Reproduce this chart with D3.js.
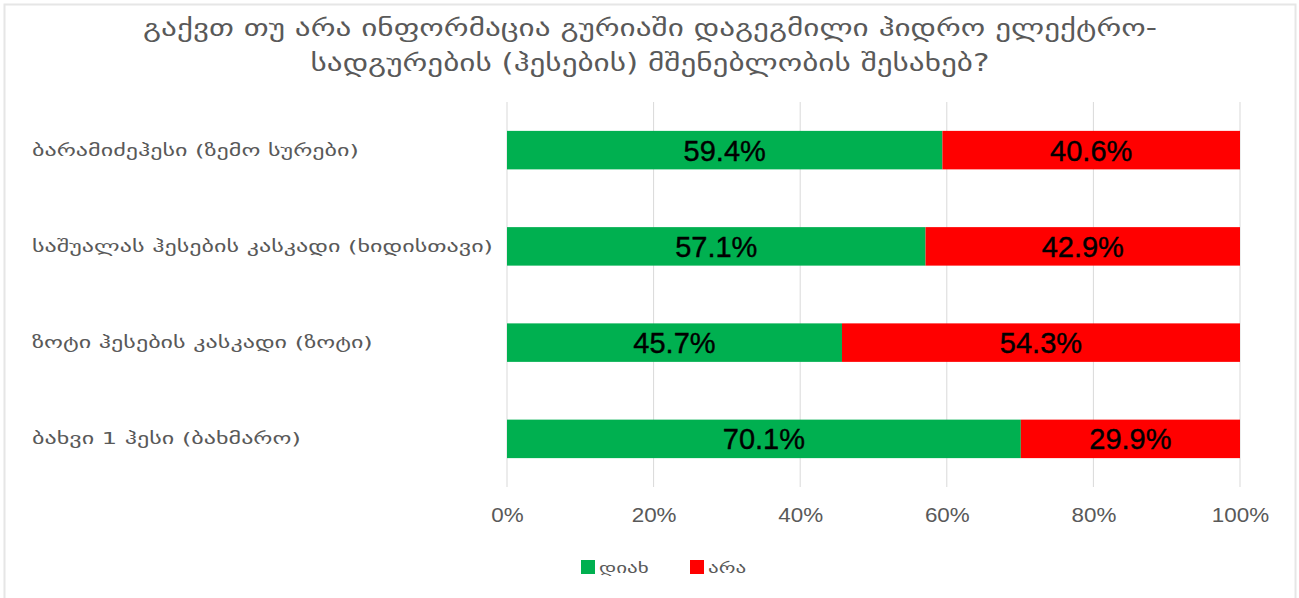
<!DOCTYPE html>
<html>
<head>
<meta charset="utf-8">
<script src="https://cdn.jsdelivr.net/npm/d3@7"></script>
<style>
  body { margin: 0; background: #fff; }
  svg { display: block; }
</style>
</head>
<body>
<svg id="svg" width="1299" height="598"></svg>
<script>
const titleLines = ["გაქვთ თუ არა ინფორმაცია გურიაში დაგეგმილი ჰიდრო ელექტრო-",
                    "სადგურების (ჰესების) მშენებლობის შესახებ?"];
const categories = ["ბარამიძეჰესი (ზემო სურები)",
                    "საშუალას ჰესების კასკადი (ხიდისთავი)",
                    "ზოტი ჰესების კასკადი (ზოტი)",
                    "ბახვი 1 ჰესი (ბახმარო)"];
const seriesNames = ["დიახ", "არა"];
const yesValues = [59.4, 57.1, 45.7, 70.1];
const noValues = [40.6, 42.9, 54.3, 29.9];
const tickValues = [0, 20, 40, 60, 80, 100];
const colors = ["#00b050", "#ff0000"];

const svg = d3.select("#svg");
const geo = "'DejaVu Sans', 'Noto Sans', sans-serif";
const num = "'Liberation Sans', Arial, sans-serif";

// the glyphs in the original are wider than the installed fonts, stretch them
function widen(sel, factor) {
  sel.each(function () {
    const w = this.getComputedTextLength();
    d3.select(this).attr("textLength", w * factor).attr("lengthAdjust", "spacingAndGlyphs");
  });
}

// outer frame
svg.append("rect").attr("x", 4.5).attr("y", 4.5).attr("width", 1291).attr("height", 600)
  .attr("fill", "none").attr("stroke", "#e6e6e6").attr("stroke-width", 2);

const title = svg.append("g").selectAll("text").data(titleLines).enter().append("text")
  .attr("x", 650).attr("y", (d, i) => 36 + i * 35)
  .attr("text-anchor", "middle")
  .attr("font-family", geo).attr("font-size", 24).attr("fill", "#595959")
  .text(d => d);
{
  const w0 = title.node().getComputedTextLength();
  widen(title, 1014 / w0);
}

const x = d3.scaleLinear().domain([0, 100]).range([507, 1240]);
const y = d3.scaleBand().domain(categories).range([102, 487]).paddingInner(0.6).paddingOuter(0.3);

const g = svg.append("g");

g.append("g").selectAll("line").data(tickValues).enter().append("line")
  .attr("x1", d => x(d)).attr("x2", d => x(d))
  .attr("y1", 102).attr("y2", 487)
  .attr("stroke", "#d9d9d9").attr("stroke-width", 1);

const xAxis = d3.axisBottom(x).tickValues(tickValues).tickFormat(d => d + "%").tickSize(0).tickPadding(0);
const ax = g.append("g").attr("transform", "translate(0,500)").call(xAxis);
ax.select(".domain").remove();
const tickText = ax.selectAll("text").attr("font-family", num).attr("font-size", 20)
  .attr("fill", "#595959").attr("y", 22).attr("dy", 0);
widen(tickText, 1.12);

const stacked = categories.map((c, i) => ({ cat: c, parts: [
  { s: 0, x0: 0, x1: yesValues[i], v: yesValues[i] },
  { s: 1, x0: yesValues[i], x1: yesValues[i] + noValues[i], v: noValues[i] }
]}));

const rows = g.append("g").selectAll("g").data(stacked).enter().append("g");
rows.selectAll("rect").data(d => d.parts.map(p => Object.assign({ cat: d.cat }, p))).enter().append("rect")
  .attr("x", d => x(d.x0)).attr("width", d => x(d.x1) - x(d.x0))
  .attr("y", d => y(d.cat)).attr("height", y.bandwidth())
  .attr("fill", d => colors[d.s]);
rows.selectAll("text").data(d => d.parts.map(p => Object.assign({ cat: d.cat }, p))).enter().append("text")
  .attr("x", d => (x(d.x0) + x(d.x1)) / 2)
  .attr("y", d => y(d.cat) + y.bandwidth() / 2)
  .attr("dy", "0.36em").attr("text-anchor", "middle")
  .attr("font-family", num).attr("font-size", 29).attr("fill", "#000")
  .attr("stroke", "#000").attr("stroke-width", 0.4)
  .text(d => d.v.toFixed(1) + "%");

const cats = g.append("g").selectAll("text").data(categories).enter().append("text")
  .attr("x", 32).attr("y", d => y(d) + y.bandwidth() / 2).attr("dy", "0.35em")
  .attr("font-family", geo).attr("font-size", 16).attr("fill", "#595959")
  .text(d => d);
{
  const w1 = cats.filter((d, i) => i === 1).node().getComputedTextLength();
  widen(cats, 461 / w1);
}

const legX = [581, 690];
const leg = svg.append("g").selectAll("g").data(seriesNames).enter().append("g")
  .attr("transform", (d, i) => `translate(${legX[i]},560)`);
leg.append("rect").attr("width", 14).attr("height", 14).attr("fill", (d, i) => colors[i]);
const legText = leg.append("text").attr("x", 18).attr("y", 8).attr("dy", "0.35em")
  .attr("font-family", geo).attr("font-size", 15).attr("fill", "#595959").text(d => d);
widen(legText, 1.4);
</script>
</body>
</html>
